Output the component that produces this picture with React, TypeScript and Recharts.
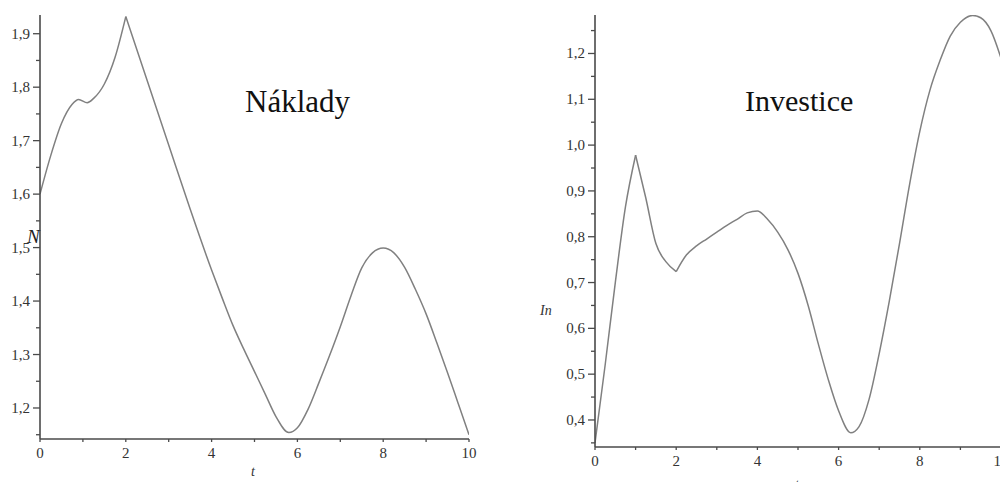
import React from 'react';
import { LineChart, Line, XAxis, YAxis } from 'recharts';

// Náklady (left panel)
const nakladyT = [
  0, 0.25, 0.5, 0.75, 0.9, 1.1, 1.25, 1.5, 1.75, 2.0, 2.5, 3.0, 3.5, 4.0, 4.25, 4.5, 4.75,
  5.0, 5.25, 5.5, 5.8, 6.0, 6.25, 6.5, 6.75, 7.0, 7.25, 7.5, 7.75, 8.0, 8.25, 8.5, 8.75,
  9.0, 9.25, 9.5, 9.75, 10,
];
const nakladyN = [
  1.6, 1.672, 1.732, 1.768, 1.777, 1.771, 1.779, 1.806, 1.856, 1.932, 1.812, 1.692, 1.572,
  1.458, 1.405, 1.354, 1.31, 1.268, 1.226, 1.184, 1.154, 1.163, 1.198, 1.247, 1.298, 1.352,
  1.41, 1.462, 1.49, 1.499, 1.49, 1.463, 1.422, 1.376, 1.322, 1.266, 1.208, 1.15,
];
// points where the Náklady curve has a corner
const nakladyCorners = [2];

// Investice (right panel)
const investiceT = [
  0, 0.25, 0.5, 0.75, 1.0, 1.25, 1.5, 1.75, 2.0, 2.25, 2.5, 2.75, 3.0, 3.25, 3.5, 3.75, 4.0,
  4.25, 4.5, 4.75, 5.0, 5.25, 5.5, 5.75, 6.0, 6.3, 6.5, 6.75, 7.0, 7.25, 7.5, 7.75, 8.0,
  8.25, 8.5, 8.75, 9.0, 9.3, 9.5, 9.75, 10,
];
const investiceIn = [
  0.35, 0.52, 0.7, 0.865, 0.978, 0.885, 0.785, 0.745, 0.724, 0.76, 0.78, 0.795, 0.81, 0.825,
  0.838, 0.852, 0.856, 0.838, 0.81, 0.772, 0.72, 0.65, 0.566, 0.487, 0.42, 0.372, 0.385, 0.445,
  0.545, 0.66, 0.785, 0.915, 1.03, 1.12, 1.185, 1.238, 1.268, 1.283, 1.278, 1.25, 1.19,
];
const investiceCorners = [1, 2];

const xTicks = [0, 1, 2, 3, 4, 5, 6, 7, 8, 9, 10];
const nakladyYTicks = [1.15, 1.2, 1.25, 1.3, 1.35, 1.4, 1.45, 1.5, 1.55, 1.6, 1.65, 1.7, 1.75, 1.8, 1.85, 1.9];
const investiceYTicks = [0.35, 0.4, 0.45, 0.5, 0.55, 0.6, 0.65, 0.7, 0.75, 0.8, 0.85, 0.9, 0.95, 1.0, 1.05, 1.1, 1.15, 1.2, 1.25];

const FONT = '"Liberation Serif", "DejaVu Serif", serif';
const AXIS = '#4a4a4a';
const CURVE = '#808080';

const isMajor = (v: number) => Math.abs(v * 10 - Math.round(v * 10)) < 1e-6;
const fmt = (v: number) => v.toFixed(1).replace('.', ',');

// split a series into pieces at its corners so each piece is smoothed on its own
const toSegments = (ts: number[], vs: number[], corners: number[]) => {
  const edges = [ts[0], ...corners, ts[ts.length - 1]];
  return ts.map((t, i) => {
    const row: Record<string, number | null> = { t };
    for (let s = 0; s < edges.length - 1; s++) {
      row['s' + s] = t >= edges[s] && t <= edges[s + 1] ? vs[i] : null;
    }
    return row;
  });
};

const YTick = (props: any) => {
  const { x, y, payload } = props;
  const major = isMajor(payload.value);
  return (
    <g>
      <line x1={x - (major ? 7 : 4)} x2={x} y1={y} y2={y} stroke={AXIS} strokeWidth={1.3} />
      {major && (
        <text x={x - 10} y={y + 5} textAnchor="end" fontFamily={FONT} fontSize={15} fill="#333">
          {fmt(payload.value)}
        </text>
      )}
    </g>
  );
};

const XTick = (props: any) => {
  const { x, y, payload } = props;
  const major = payload.value % 2 === 0;
  return (
    <g>
      <line x1={x} x2={x} y1={y} y2={y + 3} stroke={AXIS} strokeWidth={1.3} />
      {major && (
        <text x={x} y={y + 19} textAnchor="middle" fontFamily={FONT} fontSize={15} fill="#333">
          {payload.value}
        </text>
      )}
    </g>
  );
};

const Panel = ({ data, pieces, width, height, margin, xHeight, yWidth, domain, yTicks }: any) => (
  <LineChart width={width} height={height} data={data} margin={margin}>
    <XAxis
      dataKey="t"
      type="number"
      domain={[0, 10]}
      ticks={xTicks}
      interval={0}
      height={xHeight}
      tickSize={0}
      tickMargin={0}
      tick={<XTick />}
      axisLine={{ stroke: AXIS, strokeWidth: 1.6 }}
      allowDataOverflow
    />
    <YAxis
      type="number"
      domain={domain}
      ticks={yTicks}
      interval={0}
      width={yWidth}
      tickSize={0}
      tickMargin={0}
      tick={<YTick />}
      axisLine={{ stroke: AXIS, strokeWidth: 1.6 }}
      allowDataOverflow
    />
    {Array.from({ length: pieces }, (_, s) => (
      <Line
        key={s}
        type="monotone"
        dataKey={'s' + s}
        stroke={CURVE}
        strokeWidth={1.5}
        dot={false}
        connectNulls={false}
        isAnimationActive={false}
      />
    ))}
  </LineChart>
);

const App = () => {
  const nakladyData = toSegments(nakladyT, nakladyN, nakladyCorners);
  const investiceData = toSegments(investiceT, investiceIn, investiceCorners);

  return (
    <div style={{ position: 'absolute', left: 0, top: 0, width: 1000, height: 482, overflow: 'hidden', background: '#fff' }}>
      <div style={{ position: 'absolute', left: 0, top: 0 }}>
        <Panel
          data={nakladyData}
          pieces={nakladyCorners.length + 1}
          width={500}
          height={482}
          margin={{ top: 15, right: 31, left: 0, bottom: 0 }}
          xHeight={43}
          yWidth={40}
          domain={[1.142, 1.935]}
          yTicks={nakladyYTicks}
        />
      </div>
      <div style={{ position: 'absolute', left: 500, top: 0 }}>
        <Panel
          data={investiceData}
          pieces={investiceCorners.length + 1}
          width={520}
          height={482}
          margin={{ top: 15, right: 19, left: 0, bottom: 0 }}
          xHeight={35}
          yWidth={95}
          domain={[0.341, 1.284]}
          yTicks={investiceYTicks}
        />
      </div>
      <svg width={1000} height={482} style={{ position: 'absolute', left: 0, top: 0, pointerEvents: 'none' }}>
        <text x={245} y={112} fontFamily={FONT} fontSize={31} fill="#111">Náklady</text>
        <text x={745} y={111} fontFamily={FONT} fontSize={30} fill="#111">Investice</text>
        <text x={27} y={243} fontFamily={FONT} fontSize={19} fontStyle="italic" fill="#222">N</text>
        <text x={540} y={315} fontFamily={FONT} fontSize={14} fontStyle="italic" fill="#333">In</text>
        <text x={253} y={476} textAnchor="middle" fontFamily={FONT} fontSize={14} fontStyle="italic" fill="#333">t</text>
        <text x={797} y={489} textAnchor="middle" fontFamily={FONT} fontSize={14} fontStyle="italic" fill="#333">t</text>
      </svg>
    </div>
  );
};

export default App;
